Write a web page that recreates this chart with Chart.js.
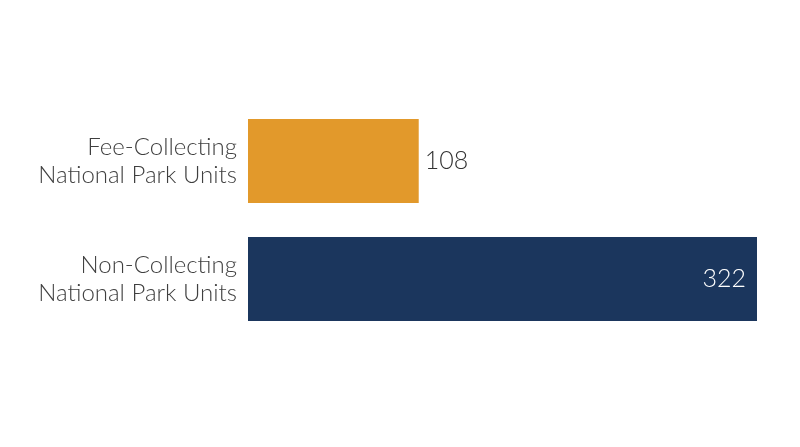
<!DOCTYPE html>
<html>
<head>
<meta charset="utf-8">
<script src="https://cdn.jsdelivr.net/npm/chart.js@4"></script>
<style>
  html, body { margin: 0; padding: 0; background: #fff; }
  #wrap { width: 800px; height: 447px; }
</style>
</head>
<body>
<div id="wrap"><canvas id="parksChart"></canvas></div>
<script>
// data
const categories = [
  ["Fee-Collecting", "National Park Units"],
  ["Non-Collecting", "National Park Units"]
];
const unitCounts = [108, 322];
const barColors = ["#E2992B", "#1B365D"];

// value labels: outside for short bars, inside (white) for long ones
const valueLabels = {
  id: "valueLabels",
  afterDatasetsDraw(chart) {
    const ctx = chart.ctx;
    const meta = chart.getDatasetMeta(0);
    ctx.save();
    ctx.font = "300 25px Lato, 'Open Sans', sans-serif";
    ctx.textBaseline = "middle";
    meta.data.forEach((bar, i) => {
      const txt = String(unitCounts[i]);
      if (bar.x - bar.base > 300) {
        ctx.fillStyle = "#ffffff";
        ctx.textAlign = "right";
        ctx.fillText(txt, bar.x - 11, bar.y);
      } else {
        ctx.fillStyle = "#333333";
        ctx.textAlign = "left";
        ctx.fillText(txt, bar.x + 6, bar.y);
      }
    });
    ctx.restore();
  }
};

new Chart(document.getElementById("parksChart"), {
  type: "bar",
  data: {
    labels: categories,
    datasets: [{
      data: unitCounts,
      backgroundColor: barColors,
      borderWidth: 0,
      categoryPercentage: 0.712,
      barPercentage: 1.0
    }]
  },
  options: {
    indexAxis: "y",
    responsive: true,
    maintainAspectRatio: false,
    animation: false,
    layout: { padding: { top: 102, bottom: 109, left: 0, right: 43 } },
    plugins: { legend: { display: false }, tooltip: { enabled: false } },
    scales: {
      x: {
        display: false,
        min: 0,
        max: 322
      },
      y: {
        grid: { display: false, drawTicks: false },
        border: { display: false },
        afterFit(scale) { scale.width = 248; },
        ticks: {
          padding: 11,
          color: "#3f3f3f",
          font: { family: "Lato, 'Open Sans', sans-serif", size: 24, weight: 300, lineHeight: 1.17 }
        }
      }
    }
  },
  plugins: [valueLabels]
});
</script>
</body>
</html>
